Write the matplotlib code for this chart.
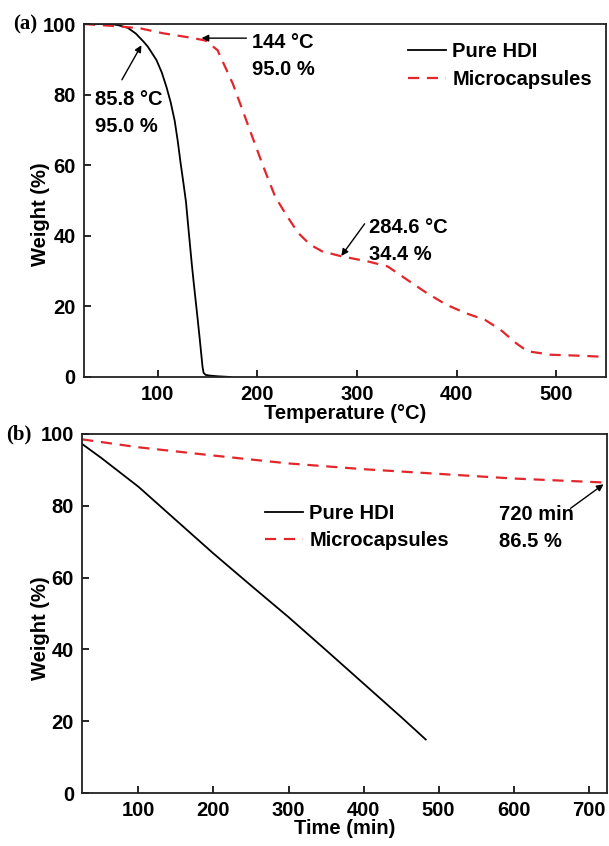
import matplotlib
matplotlib.use("Agg")
import matplotlib.pyplot as plt

plt.rcParams['font.family'] = ['Liberation Sans', 'DejaVu Sans']
plt.rcParams['font.weight'] = 'bold'

# ---- Panel (a): TGA ----
hdi_T = [26, 40, 52, 60, 70, 78, 82, 85.8, 90, 98.7, 104, 108.7, 113, 117, 120, 123, 126, 128.4, 130, 132, 134,
         136, 138, 140, 142, 144, 145, 146, 148, 152, 160, 173]
hdi_W = [100, 100, 100, 99.7, 98.9, 97.3, 96.1, 95.0, 93.6, 89.8, 86.3, 82.2, 77.8, 72.6, 67.0, 60.5, 54.5, 49.5,
         44.5, 38.5, 32.5, 27.0, 21.8, 16.6, 11.2, 5.6, 2.8, 1.2, 0.6, 0.4, 0.2, 0.0]

mc_T = [26, 58, 82, 105, 136, 148, 160, 175.5, 185, 195, 206, 218, 230, 241, 253, 265, 284.3, 311.6, 331,
        350.6, 370, 389.6, 409, 428.5, 444, 459.7, 471, 494.8, 526, 549]
mc_W = [100, 99.4, 98.8, 97.4, 96, 95.3, 92.6, 83, 75.7, 68, 59.6, 51, 45.5, 40.8, 37.5, 35.6, 34.2, 32.7, 31.3,
        27.5, 23.8, 20.5, 18.1, 16.2, 13.4, 9.6, 7.3, 6.3, 6.0, 5.7]

# ---- Panel (b): isothermal ----
hdi_t = [25, 50, 100, 150, 200, 250, 300, 350, 400, 450, 483]
hdi_w = [97.2, 93.4, 85.3, 76.0, 66.7, 57.8, 49.0, 39.8, 30.5, 21.2, 14.9]

mc_t = [25, 100, 200, 300, 400, 500, 600, 720]
mc_w = [98.5, 96.3, 94.0, 91.8, 90.2, 88.9, 87.6, 86.5]

RED = '#e3262b'
FS = 14.5
LS = 1.52

fig = plt.figure(figsize=(6.09, 8.46), dpi=100)
ax1 = fig.add_axes([0.138, 0.5544, 0.857, 0.4172])
ax2 = fig.add_axes([0.135, 0.0626, 0.861, 0.4244])

def style(ax):
    for s in ax.spines.values():
        s.set_linewidth(1.3)
        s.set_color('#222222')
    ax.tick_params(direction='in', length=5, width=1.2, labelsize=FS, pad=6)
    for lab in ax.get_xticklabels() + ax.get_yticklabels():
        lab.set_fontweight('bold')

ax1.plot(hdi_T, hdi_W, color='black', lw=1.3, label='Pure HDI')
ax1.plot(mc_T, mc_W, color=RED, lw=1.6, dashes=(5, 3.5), label='Microcapsules')
ax1.set_xlim(26, 550)
ax1.set_ylim(0, 100)
ax1.set_xticks([100, 200, 300, 400, 500])
ax1.set_yticks([0, 20, 40, 60, 80, 100])
ax1.set_xlabel('Temperature (°C)', fontsize=FS, fontweight='bold', labelpad=0)
ax1.set_ylabel('Weight (%)', fontsize=FS, fontweight='bold')
ax1.yaxis.set_label_coords(-0.065, 0.46)
style(ax1)
ax1.legend(loc='upper left', bbox_to_anchor=(0.605, 0.971), frameon=False, fontsize=FS,
           handlelength=1.9, handletextpad=0.3, labelspacing=0.42, borderaxespad=0)

arr = dict(arrowstyle='-|>', color='black', lw=1.0, mutation_scale=10, shrinkA=0, shrinkB=0)
ax1.annotate('', xy=(144, 96), xytext=(189, 96), arrowprops=arr)
ax1.text(195, 97.4, '144 °C\n95.0 %', fontsize=FS, fontweight='bold', va='top', ha='left', linespacing=LS)
ax1.annotate('', xy=(83.6, 94), xytext=(64, 84.2), arrowprops=arr)
ax1.text(37, 81.3, '85.8 °C\n95.0 %', fontsize=FS, fontweight='bold', va='top', ha='left', linespacing=LS)
ax1.annotate('', xy=(284.3, 34.3), xytext=(307.7, 43.4), arrowprops=arr)
ax1.text(311.6, 45.0, '284.6 °C\n34.4 %', fontsize=FS, fontweight='bold', va='top', ha='left', linespacing=LS)

ax2.plot(hdi_t, hdi_w, color='black', lw=1.3, label='Pure HDI')
ax2.plot(mc_t, mc_w, color=RED, lw=1.6, dashes=(5, 3.5), label='Microcapsules')
ax2.set_xlim(25, 724)
ax2.set_ylim(0, 100)
ax2.set_xticks([100, 200, 300, 400, 500, 600, 700])
ax2.set_yticks([0, 20, 40, 60, 80, 100])
ax2.set_xlabel('Time (min)', fontsize=FS, fontweight='bold', labelpad=-1)
ax2.set_ylabel('Weight (%)', fontsize=FS, fontweight='bold')
ax2.yaxis.set_label_coords(-0.061, 0.46)
style(ax2)
ax2.legend(loc='upper left', bbox_to_anchor=(0.333, 0.828), frameon=False, fontsize=FS,
           handlelength=1.9, handletextpad=0.3, labelspacing=0.42, borderaxespad=0)
ax2.annotate('', xy=(720, 86.0), xytext=(676, 79.3), arrowprops=arr)
ax2.text(580, 80.3, '720 min\n86.5 %', fontsize=FS, fontweight='bold', va='top', ha='left', linespacing=LS)

fig.text(0.021, 0.9716, '(a)', fontsize=15, fontweight='bold', family=['Liberation Serif', 'DejaVu Serif'],
         va='center', ha='left')
fig.text(0.010, 0.486, '(b)', fontsize=15, fontweight='bold', family=['Liberation Serif', 'DejaVu Serif'],
         va='center', ha='left')

fig.savefig('out.png', dpi=100)
